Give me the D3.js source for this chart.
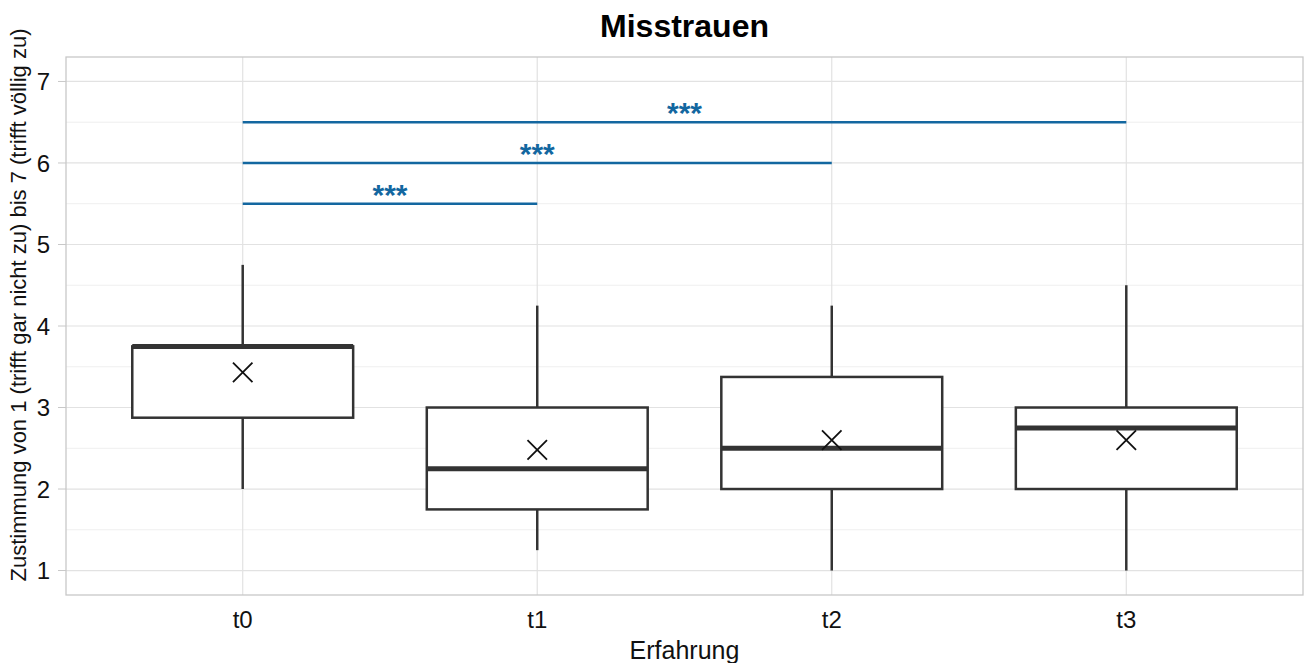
<!DOCTYPE html>
<html>
<head>
<meta charset="utf-8">
<script src="https://cdn.jsdelivr.net/npm/d3@7"></script>
<style>
  body { margin: 0; background: #fff; }
  svg { display: block; font-family: "Liberation Sans", Arial, sans-serif; }
</style>
</head>
<body>
<div class="chart"></div>
<script>
// data
let groups = ["t0", "t1", "t2", "t3"];
let whiskerLow = [2.0, 1.25, 1.0, 1.0];
let q1 = [2.875, 1.75, 2.0, 2.0];
let median = [3.75, 2.25, 2.5, 2.75];
let q3 = [3.75, 3.0, 3.375, 3.0];
let whiskerHigh = [4.75, 4.25, 4.25, 4.5];
let means = [3.43, 2.48, 2.6, 2.6];
let yTicks = [1, 2, 3, 4, 5, 6, 7];
let sigFrom = ["t0", "t0", "t0"];
let sigTo = ["t1", "t2", "t3"];
let sigY = [5.5, 6.0, 6.5];
let sigLabel = ["***", "***", "***"];

let svgWidth = 1306;
let svgHeight = 663;

let margin = { top: 57, right: 3, bottom: 68, left: 66 };
let width = svgWidth - margin.left - margin.right;
let height = svgHeight - margin.top - margin.bottom;

let svg = d3.select(".chart")
    .append("svg")
    .attr("width", svgWidth)
    .attr("height", svgHeight);

let chartGroup = svg.append("g")
    .attr("transform", `translate(${margin.left}, ${margin.top})`);

let xScale = d3.scalePoint()
    .domain(groups)
    .range([0, width])
    .padding(0.6);

let step = xScale.step();
let boxW = step * 0.75;

let yScale = d3.scaleLinear()
    .domain([0.7, 7.3])
    .range([height, 0]);

// grid
let minor = d3.range(1.5, 7.5, 1).filter(v => v < 7.3);
chartGroup.selectAll(".minor")
    .data(minor).enter().append("line")
    .attr("x1", 0).attr("x2", width)
    .attr("y1", d => yScale(d)).attr("y2", d => yScale(d))
    .attr("stroke", "#efefef").attr("stroke-width", 1);

chartGroup.selectAll(".major")
    .data(yTicks).enter().append("line")
    .attr("x1", 0).attr("x2", width)
    .attr("y1", d => yScale(d)).attr("y2", d => yScale(d))
    .attr("stroke", "#e2e2e2").attr("stroke-width", 1.2);

chartGroup.selectAll(".vgrid")
    .data(groups).enter().append("line")
    .attr("x1", d => xScale(d)).attr("x2", d => xScale(d))
    .attr("y1", 0).attr("y2", height)
    .attr("stroke", "#e2e2e2").attr("stroke-width", 1.2);

// boxes
let boxes = chartGroup.selectAll(".box")
    .data(groups).enter().append("g");

boxes.append("line")
    .attr("x1", d => xScale(d)).attr("x2", d => xScale(d))
    .attr("y1", (d, i) => yScale(whiskerLow[i]))
    .attr("y2", (d, i) => yScale(q1[i]))
    .attr("stroke", "#333").attr("stroke-width", 2.5);

boxes.append("line")
    .attr("x1", d => xScale(d)).attr("x2", d => xScale(d))
    .attr("y1", (d, i) => yScale(q3[i]))
    .attr("y2", (d, i) => yScale(whiskerHigh[i]))
    .attr("stroke", "#333").attr("stroke-width", 2.5);

boxes.append("rect")
    .attr("x", d => xScale(d) - boxW / 2)
    .attr("width", boxW)
    .attr("y", (d, i) => yScale(q3[i]))
    .attr("height", (d, i) => yScale(q1[i]) - yScale(q3[i]))
    .attr("fill", "white")
    .attr("stroke", "#333").attr("stroke-width", 2.5);

boxes.append("line")
    .attr("x1", d => xScale(d) - boxW / 2).attr("x2", d => xScale(d) + boxW / 2)
    .attr("y1", (d, i) => yScale(median[i]))
    .attr("y2", (d, i) => yScale(median[i]))
    .attr("stroke", "#333").attr("stroke-width", 5);

// mean markers
let cross = d3.symbol().type(d3.symbolX).size(250);
boxes.append("path")
    .attr("d", cross)
    .attr("transform", (d, i) => `translate(${xScale(d)}, ${yScale(means[i])})`)
    .attr("fill", "none")
    .attr("stroke", "#111").attr("stroke-width", 1.8);

// significance brackets
let sigColor = "#1367a0";
sigY.forEach((v, i) => {
    let xa = xScale(sigFrom[i]);
    let xb = xScale(sigTo[i]);
    chartGroup.append("line")
        .attr("x1", xa).attr("x2", xb)
        .attr("y1", yScale(v)).attr("y2", yScale(v))
        .attr("stroke", sigColor).attr("stroke-width", 2.5);
    chartGroup.append("text")
        .attr("x", (xa + xb) / 2)
        .attr("y", yScale(v) + 1)
        .attr("text-anchor", "middle")
        .attr("fill", sigColor)
        .style("font-size", "30px")
        .style("font-weight", "bold")
        .text(sigLabel[i]);
});

// panel border
chartGroup.append("rect")
    .attr("width", width).attr("height", height)
    .attr("fill", "none")
    .attr("stroke", "#c8c8c8").attr("stroke-width", 1.3);

// axes labels
chartGroup.selectAll(".ytick")
    .data(yTicks).enter().append("text")
    .attr("x", -16)
    .attr("y", d => yScale(d))
    .attr("dy", "0.36em")
    .attr("text-anchor", "end")
    .attr("fill", "#111")
    .style("font-size", "24px")
    .text(d => d);

chartGroup.selectAll(".ytickmark")
    .data(yTicks).enter().append("line")
    .attr("x1", -8).attr("x2", 0)
    .attr("y1", d => yScale(d)).attr("y2", d => yScale(d))
    .attr("stroke", "#c8c8c8").attr("stroke-width", 1);

chartGroup.selectAll(".xtick")
    .data(groups).enter().append("text")
    .attr("x", d => xScale(d))
    .attr("y", 628 - margin.top)
    .attr("text-anchor", "middle")
    .attr("fill", "#111")
    .style("font-size", "24px")
    .text(d => d);

chartGroup.append("text")
    .attr("x", width / 2)
    .attr("y", 659 - margin.top)
    .attr("text-anchor", "middle")
    .attr("fill", "#111")
    .style("font-size", "25px")
    .text("Erfahrung");

chartGroup.append("text")
    .attr("transform", "rotate(-90)")
    .attr("x", -(305 - margin.top))
    .attr("y", 26 - margin.left)
    .attr("text-anchor", "middle")
    .attr("fill", "#111")
    .style("font-size", "22px")
    .text("Zustimmung von 1 (trifft gar nicht zu) bis 7 (trifft völlig zu)");

svg.append("text")
    .attr("x", margin.left + width / 2)
    .attr("y", 37)
    .attr("text-anchor", "middle")
    .attr("fill", "#000")
    .style("font-size", "32px")
    .style("font-weight", "bold")
    .text("Misstrauen");
</script>
</body>
</html>
